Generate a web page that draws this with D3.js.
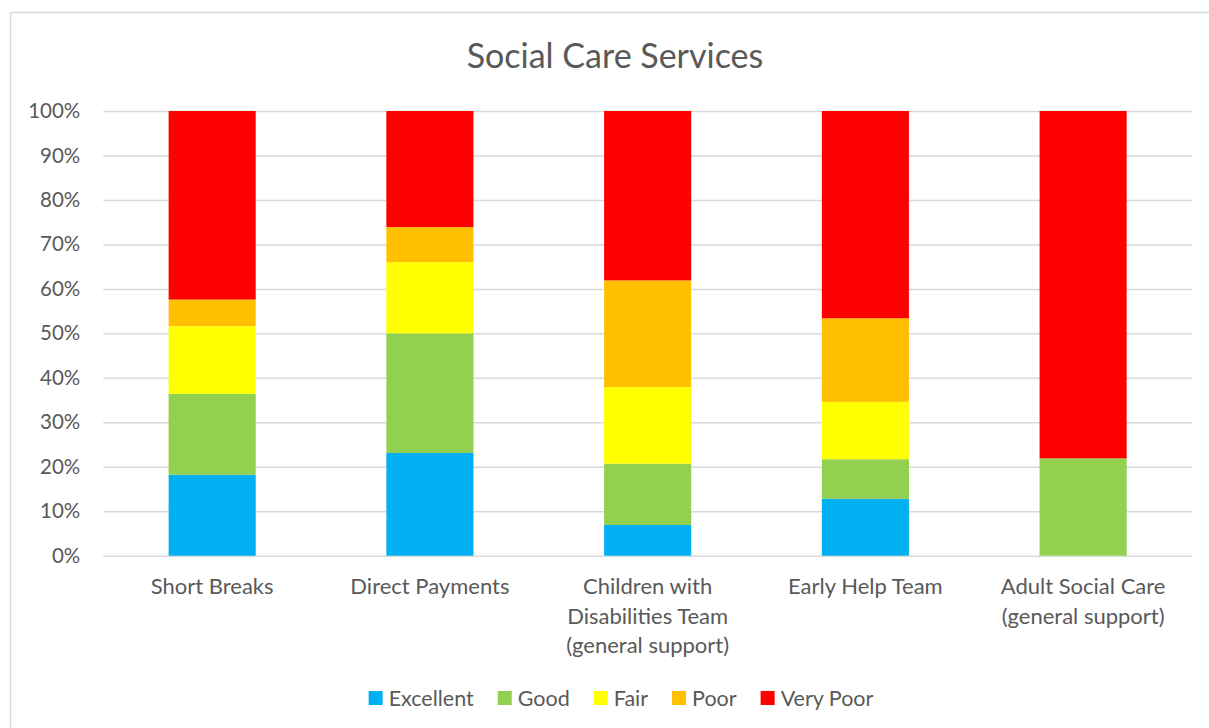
<!DOCTYPE html>
<html>
<head>
<meta charset="utf-8">
<script src="https://cdn.jsdelivr.net/npm/d3@7"></script>
<style>
  html, body { margin: 0; padding: 0; background: #fff; }
  svg { display: block; }
  text { font-family: Lato, "Open Sans", sans-serif; fill: #595959; }
</style>
</head>
<body>
<svg id="chart" width="1209" height="728"></svg>
<script>
// Survey ratings by service (share of respondents, %)
const categories = [
  "Short Breaks",
  "Direct Payments",
  "Children with Disabilities Team (general support)",
  "Early Help Team",
  "Adult Social Care (general support)"
];
const categoryLines = [
  ["Short Breaks"],
  ["Direct Payments"],
  ["Children with", "Disabilities Team", "(general support)"],
  ["Early Help Team"],
  ["Adult Social Care", "(general support)"]
];
const ratings = ["Excellent", "Good", "Fair", "Poor", "Very Poor"];
const colors  = ["#00b0f0", "#92d050", "#ffff00", "#ffc000", "#ff0000"];

const excellent = [18.2, 23.1,  6.9, 12.8,  0.0];
const good      = [18.2, 26.9, 13.8,  8.9, 21.9];
const fair      = [15.2, 16.0, 17.2, 12.9,  0.0];
const poor      = [ 6.0,  7.9, 24.0, 18.8,  0.0];
const veryPoor  = [42.4, 26.1, 38.1, 46.6, 78.1];

const yTicks = [0, 10, 20, 30, 40, 50, 60, 70, 80, 90, 100];

const table = categories.map((c, i) => ({
  category: c,
  "Excellent": excellent[i],
  "Good": good[i],
  "Fair": fair[i],
  "Poor": poor[i],
  "Very Poor": veryPoor[i]
}));

const svg = d3.select("#chart");

// outer chart frame
svg.append("rect")
  .attr("x", 10.5).attr("y", 12.5)
  .attr("width", 1400).attr("height", 900)
  .attr("fill", "none").attr("stroke", "#d9d9d9").attr("stroke-width", 1.5);

const plot = { left: 103.3, right: 1192, top: 111, bottom: 555.7 };

const x = d3.scaleBand()
  .domain(categories)
  .range([plot.left, plot.right])
  .paddingInner(0.6)
  .paddingOuter(0.3);

const y = d3.scaleLinear()
  .domain([0, 100])
  .range([plot.bottom, plot.top]);

// title
svg.append("text")
  .attr("x", 615).attr("y", 68)
  .attr("text-anchor", "middle")
  .style("font-size", "34px")
  .text("Social Care Services");

// gridlines + y labels
const yAxis = d3.axisLeft(y)
  .tickValues(yTicks)
  .tickSize(-(plot.right - plot.left))
  .tickPadding(23)
  .tickFormat(d => d + "%");

const gy = svg.append("g")
  .attr("transform", `translate(${plot.left},0)`)
  .call(yAxis);
gy.select(".domain").remove();
gy.selectAll(".tick line").attr("stroke", "#d9d9d9").attr("stroke-width", 1.5);
gy.selectAll(".tick text")
  .style("font-size", "20.5px")
  .attr("fill", "#595959");

// stacked bars
const stack = d3.stack().keys(ratings);
const series = stack(table);
const color = d3.scaleOrdinal().domain(ratings).range(colors);

svg.append("g")
  .selectAll("g")
  .data(series)
  .join("g")
  .attr("fill", d => color(d.key))
  .selectAll("rect")
  .data(d => d)
  .join("rect")
  .attr("x", d => x(d.data.category))
  .attr("width", x.bandwidth())
  .attr("y", d => y(d[1]))
  .attr("height", d => y(d[0]) - y(d[1]));

// category labels
const gx = svg.append("g");
categories.forEach((c, i) => {
  const t = gx.append("text")
    .attr("text-anchor", "middle")
    .style("font-size", "22px");
  categoryLines[i].forEach((line, j) => {
    t.append("tspan")
      .attr("x", x(c) + x.bandwidth() / 2)
      .attr("y", 594 + j * 29.5)
      .text(line);
  });
});

// legend
const legend = svg.append("g");
const items = [];
ratings.forEach((r, i) => {
  const g = legend.append("g");
  g.append("rect")
    .attr("x", 0).attr("y", -7)
    .attr("width", 14).attr("height", 14)
    .attr("fill", colors[i]);
  const t = g.append("text")
    .attr("x", 20).attr("y", 8)
    .style("font-size", "21.5px")
    .text(r);
  const w = 20 + t.node().getComputedTextLength();
  items.push({ g, w });
});
const gap = 24;
const total = d3.sum(items, d => d.w) + gap * (items.length - 1);
let cursor = 621 - total / 2;
items.forEach(it => {
  it.g.attr("transform", `translate(${cursor},698)`);
  cursor += it.w + gap;
});
</script>
</body>
</html>
